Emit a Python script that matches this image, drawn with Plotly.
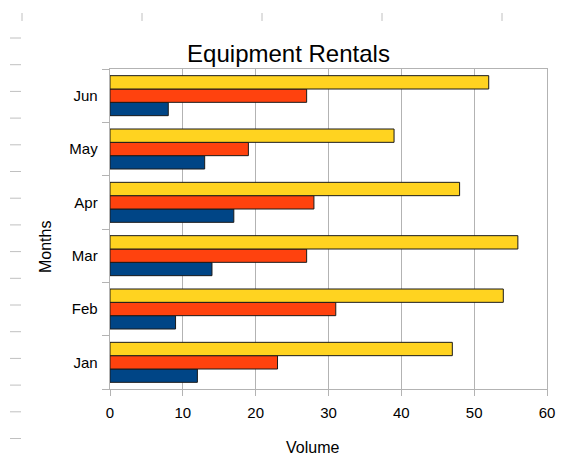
import plotly.graph_objects as go

months = ["Jan", "Feb", "Mar", "Apr", "May", "Jun"]
series_a = [12, 9, 14, 17, 13, 8]      # blue (bottom bar)
series_b = [23, 31, 27, 28, 19, 27]    # red (middle bar)
series_c = [47, 54, 56, 48, 39, 52]    # yellow (top bar)

colors = ["#004586", "#FF420E", "#FFD320"]

# page body has an 8px margin, so the figure is shrunk by that much
fig = go.Figure()
for vals, col, name in zip([series_a, series_b, series_c], colors, ["A", "B", "C"]):
    fig.add_bar(y=months, x=vals, orientation="h", name=name,
                marker=dict(color=col, line=dict(color="#1a1a1a", width=1)))

fig.update_layout(
    width=561, height=447,
    margin=dict(l=102, r=22, t=61, b=66),
    paper_bgcolor="white", plot_bgcolor="white",
    barmode="group", bargap=0.25, bargroupgap=0,
    showlegend=False,
    font=dict(family="Liberation Sans, Arial, sans-serif", size=15, color="#000"),
    title=dict(text="Equipment Rentals", x=0.5, xanchor="center", y=1 - 46 / 447, yanchor="middle",
               font=dict(size=24, color="#000")),
)
fig.update_xaxes(range=[0, 60], dtick=10, showgrid=True, gridcolor="#b3b3b3", gridwidth=1,
                 showline=True, linecolor="#b3b3b3", mirror=True, zeroline=False,
                 ticks="outside", ticklen=6, tickcolor="#b3b3b3", ticklabelstandoff=4,
                 automargin=False)
fig.update_yaxes(showgrid=False, showline=True, linecolor="#b3b3b3", mirror=True,
                 ticks="outside", ticklen=7, tickcolor="#b3b3b3", tickson="boundaries",
                 ticksuffix="  ", automargin=False)

# axis titles, placed where the original chart puts them
fig.add_annotation(text="Volume", xref="paper", yref="paper", x=(312 - 110) / 437, y=-(447 - 389) / 320,
                   showarrow=False, xanchor="center", yanchor="middle", font=dict(size=16))
fig.add_annotation(text="Months", xref="paper", yref="paper", x=(45 - 110) / 437, y=(389 - 247) / 320,
                   showarrow=False, textangle=-90, xanchor="center", yanchor="middle", font=dict(size=16))

# ruler marks around the screenshot edges (page pixels, minus body margin)
for x in [22, 142, 262, 382, 502]:
    fig.add_shape(type="line", xref="paper", yref="paper",
                  x0=(x - 110) / 437, x1=(x - 110) / 437,
                  y0=(389 - 13) / 320, y1=(389 - 21) / 320,
                  line=dict(color="#c0c0c0", width=1))
for k in range(16):
    y = 38 + k * 26.7
    fig.add_shape(type="line", xref="paper", yref="paper",
                  x0=(10 - 110) / 437, x1=(21 - 110) / 437,
                  y0=(389 - y) / 320, y1=(389 - y) / 320,
                  line=dict(color="#c0c0c0", width=1))

fig.write_html("out.html")
